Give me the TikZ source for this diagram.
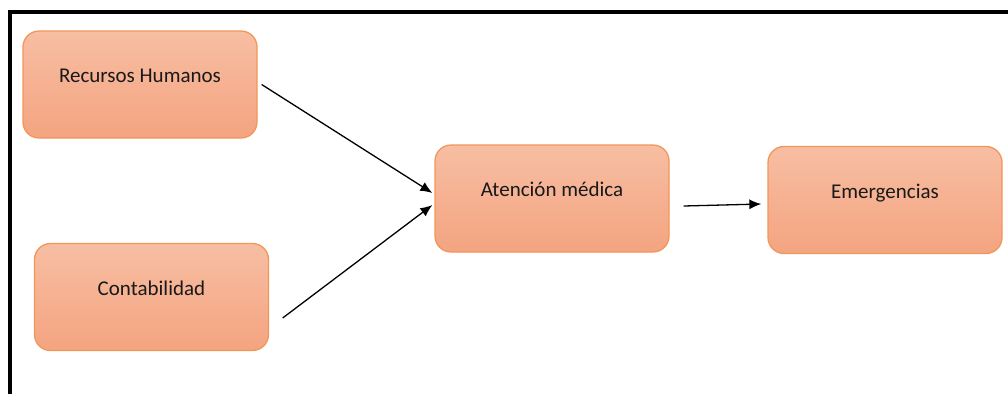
\documentclass[tikz,border=0pt]{standalone}
\usepackage{fontspec}
\setmainfont{Carlito}
\usetikzlibrary{calc, arrows.meta}
\definecolor{cajaarriba}{RGB}{247,190,163}
\definecolor{cajaabajo}{RGB}{244,164,128}
\definecolor{cajaborde}{RGB}{242,150,90}
\definecolor{texto}{RGB}{25,25,25}
\tikzset{
  caja/.style = {rectangle, rounded corners = 16pt, draw = cajaborde,
    line width = 1.3pt, top color = cajaarriba, bottom color = cajaabajo,
    minimum width = 234pt, minimum height = 107pt, inner sep = 0pt,
    text height = 15pt, text depth = 19pt, font = \fontsize{21}{24}\selectfont,
    text = texto},
  flecha/.style = {-{Latex[length = 12pt, width = 10pt]}, line width = 1.3pt,
    black}
}
\begin{document}
\begin{tikzpicture}[x = 1pt, y = -1pt]
  \useasboundingbox (0, 0) rectangle (1008, 394);
  \draw[line width = 4pt] (9.5, 394) -- (9.5, 12) -- (1008, 12);
  \node[caja] (rh) at (140, 84.5) {Recursos Humanos};
  \node[caja] (co) at (151.5, 297) {Contabilidad};
  \node[caja] (am) at (552, 198.5) {Atención médica};
  \node[caja] (em) at (885, 200) {Emergencias};
  \draw[flecha] ($(rh.east) + (4, 0)$) -- ($(am.west) + (-2, -5.5)$);
  \draw[flecha] ($(co.east) + (13.5, 21)$) -- ($(am.west) + (-2, 6.5)$);
  \draw[flecha] ($(am.east) + (14, 7.5)$) -- ($(em.west) + (-6, 4)$);
\end{tikzpicture}
\end{document}
